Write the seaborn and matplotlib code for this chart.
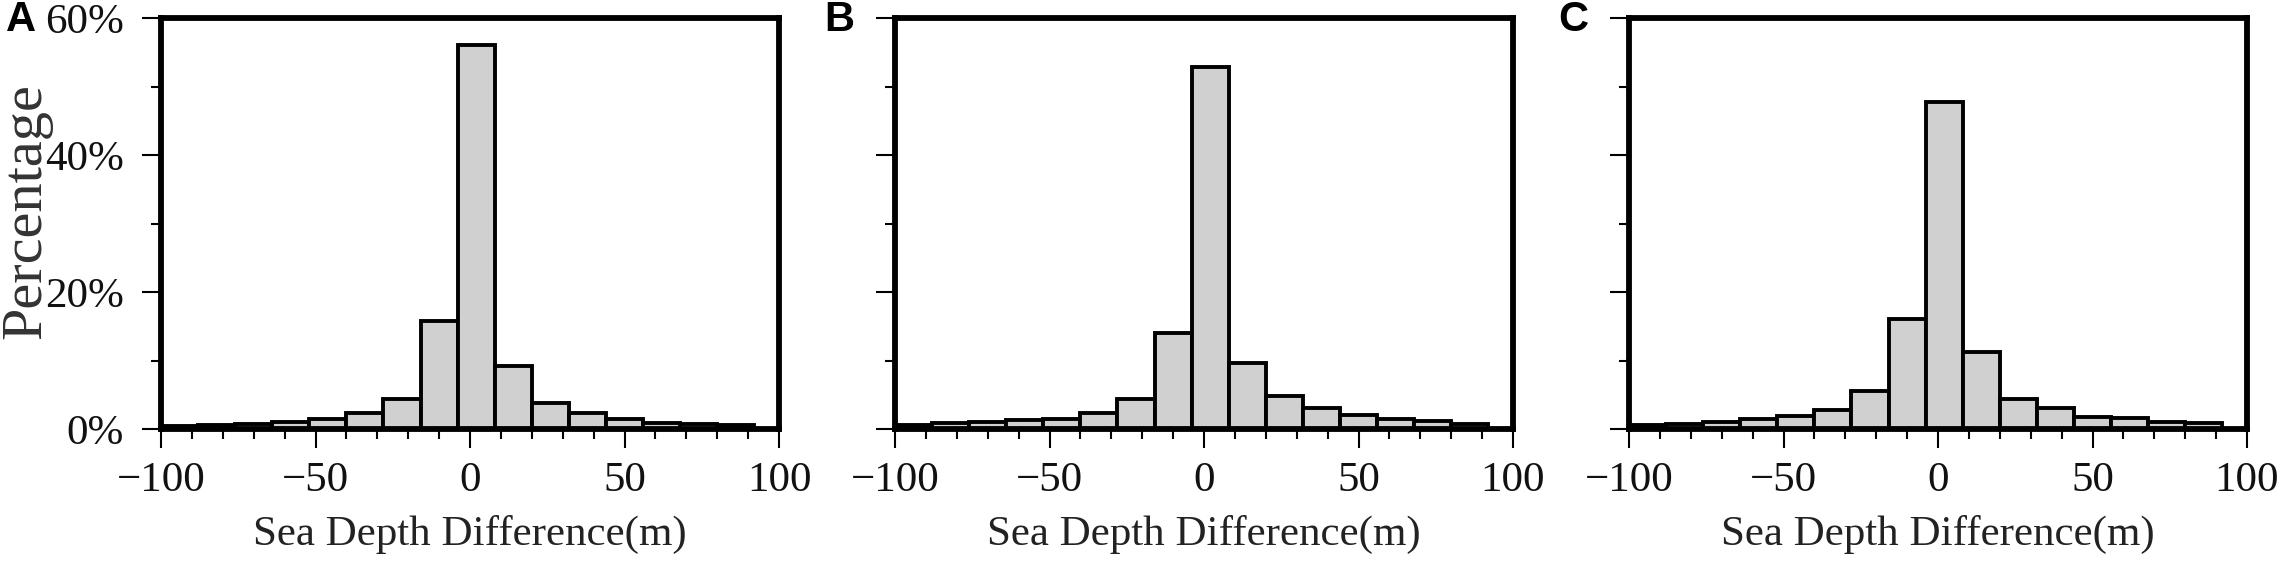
import pandas as pd
import seaborn as sns
import matplotlib
matplotlib.use("Agg")
import matplotlib.pyplot as plt
from matplotlib.ticker import MultipleLocator

sns.set_style("white")
plt.rcParams['font.family'] = ['Liberation Serif', 'DejaVu Serif']

bin_edges = [-100, -88, -76, -64, -52, -40, -28, -16, -4, 8, 20, 32, 44, 56, 68, 80, 92]
panel_a = [0.4, 0.6, 0.75, 1.0, 1.4, 2.4, 4.4, 15.8, 56.0, 9.2, 3.8, 2.4, 1.4, 0.85, 0.8, 0.6]
panel_b = [0.6, 0.85, 1.0, 1.25, 1.5, 2.4, 4.4, 14.0, 52.8, 9.7, 4.8, 3.0, 2.0, 1.5, 1.15, 0.7]
panel_c = [0.55, 0.75, 1.0, 1.4, 1.9, 2.8, 5.5, 16.0, 47.7, 11.3, 4.4, 3.1, 1.8, 1.65, 1.05, 0.9]
panels = {"A": panel_a, "B": panel_b, "C": panel_c}
x_ticks = [-100, -50, 0, 50, 100]
y_ticks = [0, 20, 40, 60]
y_labels = ["0%", "20%", "40%", "60%"]
x_labels = ["\u2212100", "\u221250", "0", "50", "100"]
x_title = "Sea Depth Difference(m)"
y_title = "Percentage"

W, H = 2281, 567
fig = plt.figure(figsize=(W / 100, H / 100), dpi=100, facecolor="white")
lefts = [161, 895, 1629]
letter_x = [6, 824, 1558]
width = 618
top, bottom = 18, 429
centers = [(a + b) / 2 for a, b in zip(bin_edges[:-1], bin_edges[1:])]
for (name, vals), left, lx in zip(panels.items(), lefts, letter_x):
    ax = fig.add_axes([left / W, 1 - bottom / H, width / W, (bottom - top) / H])
    df = pd.DataFrame({"x": centers, "w": vals})
    sns.histplot(df, x="x", weights="w", bins=bin_edges, ax=ax, color="#d0d0d0", alpha=1,
                 edgecolor="black", linewidth=2.8, zorder=2)
    ax.set_xlim(-100, 100)
    ax.set_ylim(0, 60)
    ax.set_xticks(x_ticks)
    ax.set_xticklabels(x_labels)
    ax.xaxis.set_minor_locator(MultipleLocator(10))
    ax.set_yticks(y_ticks)
    ax.yaxis.set_minor_locator(MultipleLocator(10))
    ax.set_yticklabels(y_labels if name == "A" else [])
    ax.tick_params(axis="both", which="major", length=13.5, width=1.5, color="black", labelsize=31,
                   labelcolor="#111111", bottom=True, left=True)
    ax.tick_params(axis="x", which="major", pad=10)
    ax.tick_params(axis="y", which="major", pad=13)
    ax.tick_params(axis="both", which="minor", length=7, width=1.5, color="black", bottom=True, left=True)
    for s in ax.spines.values():
        s.set_visible(True)
        s.set_color("black")
        s.set_linewidth(4.2)
        s.set_zorder(5)
    ax.set_xlabel(x_title, fontsize=31, color="#222222", labelpad=11)
    ax.set_ylabel("")
    fig.text(lx / W, 1 - 20 / H, name, fontsize=30, fontweight="bold",
             family=["Liberation Sans", "DejaVu Sans"], color="black", ha="left", va="center")
fig.text(26 / W, 1 - 211 / H, y_title, rotation=90, fontsize=42, color="#333333", ha="center", va="center")
fig.savefig("out.png", dpi=100, facecolor="white")
